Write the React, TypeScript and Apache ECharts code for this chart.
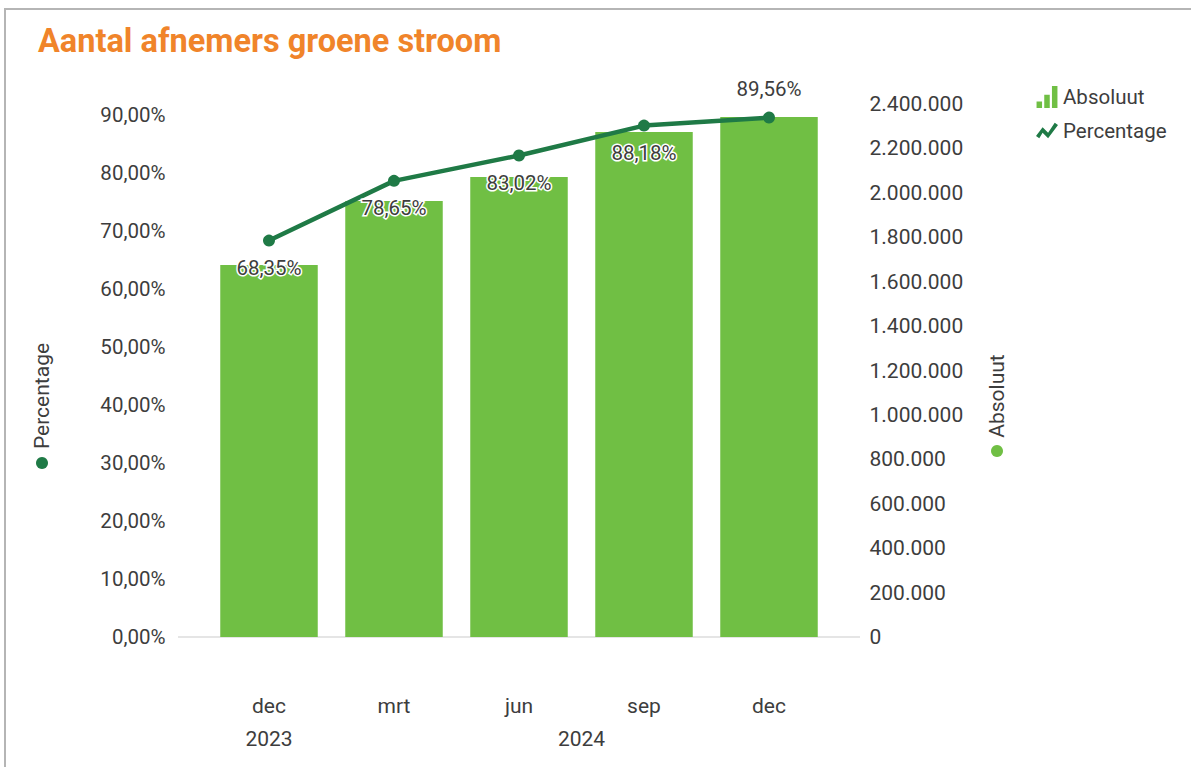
import React, { useEffect, useRef } from "react";
import * as echarts from "echarts";

const months = ["dec", "mrt", "jun", "sep", "dec"];
const years = ["2023", "2024", "2024", "2024", "2024"];
const absoluut = [1675000, 1963000, 2071000, 2274000, 2341000];
const percentage = [68.35, 78.65, 83.02, 88.18, 89.56];
const leftTicks = [0, 10, 20, 30, 40, 50, 60, 70, 80, 90];

const FONT = "Roboto, 'Noto Sans', sans-serif";
const BAR = "#70bf44";
const LINE = "#1f7a46";
const TXT = "#3d3d3d";
const FS = 20.5;

const fmtPct = (v: number) => v.toFixed(2).replace(".", ",") + "%";
const fmtNum = (v: number) =>
  Math.round(v)
    .toString()
    .replace(/\B(?=(\d{3})+(?!\d))/g, ".");

const barIcon =
  "path://M0,14L5,14L5,20L0,20Z M7,8L12,8L12,20L7,20Z M14,0L19,0L19,20L14,20Z";
const lineIcon =
  "path://M0,16L6,8L11,13L17,4L20,6L11,18L6,13L3,18Z";

export default function App() {
  const ref = useRef<HTMLDivElement>(null);
  useEffect(() => {
    if (!ref.current) return;
    const chart = echarts.init(ref.current, undefined, { renderer: "svg" });
    chart.setOption({
      animation: false,
      textStyle: { fontFamily: FONT },
      title: {
        text: "Aantal afnemers groene stroom",
        left: 33,
        top: 19,
        textStyle: { color: "#f0842a", fontSize: 32.5, fontWeight: "bold", fontFamily: FONT },
      },
      legend: {
        orient: "vertical",
        left: 1031,
        top: 81,
        itemGap: 12,
        itemWidth: 22,
        itemHeight: 22,
        textStyle: { fontSize: FS, color: TXT, fontFamily: FONT },
        data: [
          { name: "Absoluut", icon: barIcon, itemStyle: { color: BAR } },
          { name: "Percentage", icon: lineIcon, itemStyle: { color: LINE } },
        ],
      },
      grid: { left: 206.5, right: 359.5, top: 104, bottom: 130, containLabel: false },
      xAxis: {
        type: "category",
        data: months,
        axisLine: { show: false },
        axisTick: { show: false },
        axisLabel: { margin: 58, fontSize: 21, color: TXT, fontFamily: FONT },
      },
      yAxis: [
        {
          type: "value",
          min: 0,
          max: 91.9,
          interval: 10,
          position: "left",
          axisLine: { show: false },
          axisTick: { show: false },
          splitLine: { show: false },
          axisLabel: {
            margin: 41,
            fontSize: FS,
            color: TXT,
            fontFamily: FONT,
            showMaxLabel: false,
            formatter: (v: number) => (leftTicks.includes(Math.round(v * 100) / 100) ? fmtPct(v) : ""),
          },
        },
        {
          type: "value",
          min: 0,
          max: 2400000,
          interval: 200000,
          position: "right",
          axisLine: { show: false },
          axisTick: { show: false },
          splitLine: { show: false },
          axisLabel: {
            margin: 38,
            fontSize: 21,
            color: TXT,
            fontFamily: FONT,
            formatter: (v: number) => fmtNum(v),
          },
        },
      ],
      series: [
        {
          name: "Absoluut",
          type: "bar",
          yAxisIndex: 1,
          data: absoluut,
          barWidth: "78%",
          itemStyle: { color: BAR },
        },
        {
          name: "Percentage",
          type: "line",
          yAxisIndex: 0,
          data: percentage.map((v, i) => ({
            value: v,
            label: {
              position: i === percentage.length - 1 ? "top" : "bottom",
              distance: i === percentage.length - 1 ? 12 : 11,
              textBorderWidth: i === percentage.length - 1 ? 0 : 3,
            },
          })),
          symbol: "circle",
          symbolSize: 12,
          lineStyle: { color: LINE, width: 4.5 },
          itemStyle: { color: LINE },
          label: {
            show: true,
            fontSize: FS,
            color: TXT,
            fontFamily: FONT,
            textBorderColor: "#ffffff",
            textBorderWidth: 3,
            formatter: (p: any) => fmtPct(p.value),
          },
          z: 5,
        },
      ],
    });

    const groups: Record<string, number[]> = {};
    years.forEach((y, i) => {
      (groups[y] = groups[y] || []).push(i);
    });
    const y0 = chart.convertToPixel({ yAxisIndex: 1 }, 0) as number;
    const yearGraphics = Object.keys(groups).map((y) => {
      const idx = groups[y];
      const xa = chart.convertToPixel({ xAxisIndex: 0 }, idx[0]) as number;
      const xb = chart.convertToPixel({ xAxisIndex: 0 }, idx[idx.length - 1]) as number;
      return {
        type: "text",
        x: (xa + xb) / 2,
        y: y0 + 102,
        style: {
          text: y,
          font: `21px ${FONT}`,
          fill: TXT,
          align: "center",
          verticalAlign: "middle",
        },
      };
    });

    chart.setOption({
      graphic: [
        {
          type: "rect",
          shape: { x: 5, y: 9, width: 1300, height: 900 },
          style: { fill: "none", stroke: "#b5b5b5", lineWidth: 2 },
          silent: true,
        },
        {
          type: "line",
          shape: { x1: 178, y1: y0, x2: 860, y2: y0 },
          style: { stroke: "#dcdcdc", lineWidth: 1.5 },
          z: -1,
          silent: true,
        },
        ...yearGraphics,
        {
          type: "text",
          x: 42,
          y: 396,
          rotation: Math.PI / 2,
          style: {
            text: "Percentage",
            font: `21px ${FONT}`,
            fill: TXT,
            align: "center",
            verticalAlign: "middle",
          },
        },
        { type: "circle", shape: { cx: 42, cy: 463, r: 6 }, style: { fill: LINE } },
        {
          type: "text",
          x: 997,
          y: 396,
          rotation: Math.PI / 2,
          style: {
            text: "Absoluut",
            font: `21px ${FONT}`,
            fill: TXT,
            align: "center",
            verticalAlign: "middle",
          },
        },
        { type: "circle", shape: { cx: 997, cy: 451, r: 6 }, style: { fill: BAR } },
      ],
    });

    return () => chart.dispose();
  }, []);
  return (
    <div
      ref={ref}
      style={{ position: "fixed", left: 0, top: 0, width: 1191, height: 767, background: "#fff" }}
    />
  );
}
